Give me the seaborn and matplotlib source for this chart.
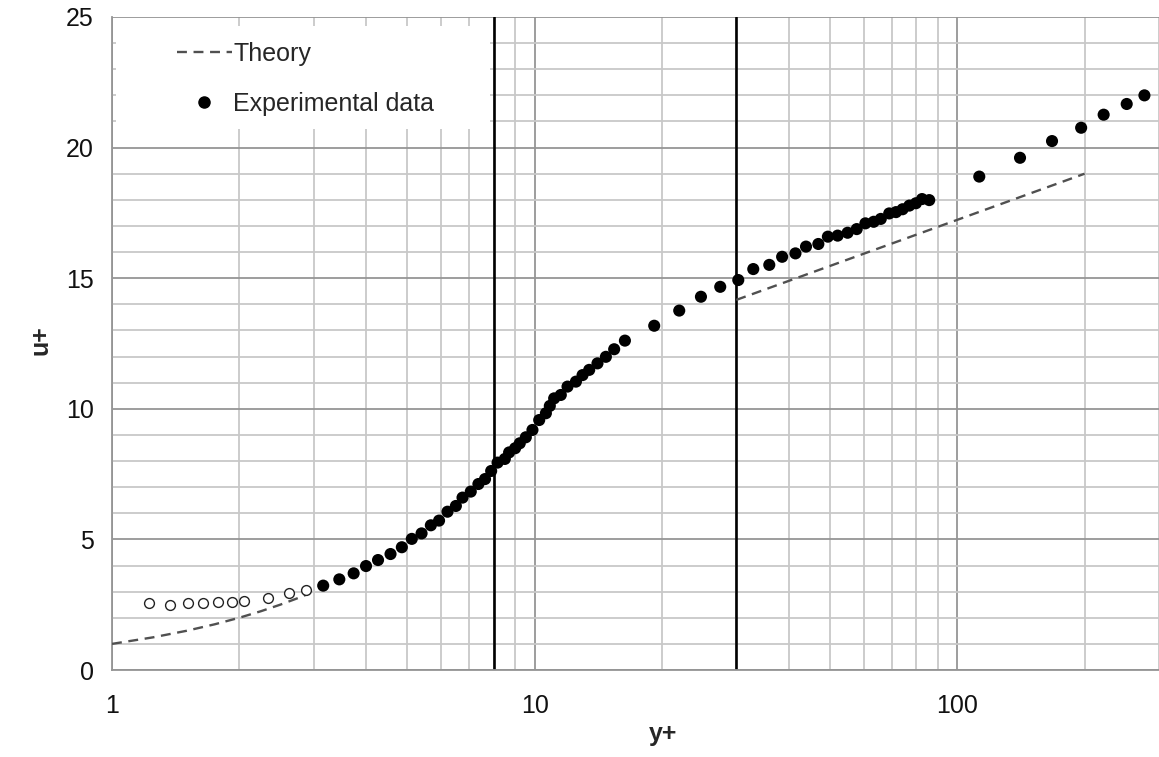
import matplotlib
matplotlib.use("Agg")
import matplotlib.pyplot as plt
import matplotlib.ticker as mticker
from matplotlib.lines import Line2D
import numpy as np
import pandas as pd
import seaborn as sns

# ---- data ----
open_y = [1.22, 1.37, 1.51, 1.64, 1.78, 1.92, 2.05, 2.34, 2.62, 2.88]
open_u = [2.55, 2.49, 2.55, 2.55, 2.59, 2.59, 2.65, 2.77, 2.94, 3.06]

filled_y = [3.16, 3.45, 3.73, 3.99, 4.26, 4.56, 4.85, 5.12, 5.40, 5.68,
            5.94, 6.22, 6.51, 6.75, 7.06, 7.36, 7.63, 7.89, 8.17, 8.50,
            8.70, 8.99, 9.22, 9.53, 9.88, 10.25, 10.63, 10.86, 11.12, 11.53,
            11.96, 12.52, 12.98, 13.46, 14.08, 14.74, 15.42, 16.35,
            19.18, 21.98, 24.74, 27.48, 30.32, 32.9, 35.9, 38.5, 41.4, 43.85,
            46.9, 49.4, 52.1, 55.0, 57.8, 60.6, 63.4, 65.9, 69.0, 71.6,
            74.2, 77.0, 79.8, 82.5, 85.8,
            112.7, 140.7, 167.5, 196.3, 221.9, 251.6, 277.1]
filled_u = [3.23, 3.47, 3.70, 3.98, 4.21, 4.44, 4.70, 5.02, 5.23, 5.54,
            5.72, 6.06, 6.28, 6.60, 6.83, 7.12, 7.31, 7.62, 7.94, 8.08,
            8.33, 8.49, 8.68, 8.91, 9.19, 9.57, 9.83, 10.11, 10.40, 10.53,
            10.85, 11.04, 11.29, 11.49, 11.74, 11.99, 12.28, 12.61,
            13.18, 13.76, 14.29, 14.67, 14.93, 15.35, 15.51, 15.82, 15.95, 16.21,
            16.31, 16.59, 16.63, 16.74, 16.88, 17.10, 17.16, 17.27, 17.48, 17.53,
            17.64, 17.78, 17.87, 18.03, 17.99,
            18.89, 19.61, 20.25, 20.76, 21.26, 21.67, 22.0]

theory_visc_y = [1.0, 1.25, 1.5, 1.75, 2.0, 2.25, 2.5, 2.75, 2.9]
theory_visc_u = [1.0, 1.25, 1.5, 1.75, 2.0, 2.25, 2.5, 2.75, 2.9]
theory_log_y = [30, 200]
theory_log_u = [14.17, 19.0]

region_lines = [8, 30]
x_ticks = [1, 10, 100]
y_ticks = [0, 5, 10, 15, 20, 25]

# ---- figure ----
sns.set_style("white")
plt.rcParams['font.family'] = ['Liberation Sans', 'DejaVu Sans']

fig = plt.figure(figsize=(11.59, 7.57), dpi=100)
ax = fig.add_axes([112 / 1159, 1 - 670 / 757, 1 - 112 / 1159, (670 - 17) / 757])

theory = pd.DataFrame({
    "y": theory_visc_y + theory_log_y,
    "u": theory_visc_u + theory_log_u,
    "seg": ["visc"] * len(theory_visc_y) + ["log"] * len(theory_log_y),
})
dash = (0, (4.2, 2.8))
sns.lineplot(data=theory, x="y", y="u", units="seg", estimator=None, sort=False,
             color="#505050", linewidth=1.7, linestyle=dash, ax=ax, zorder=3,
             legend=False)

sns.scatterplot(x=open_y, y=open_u, ax=ax, s=50, marker="o",
                facecolor="white", edgecolor="#222222", linewidth=1.0, zorder=4)
sns.scatterplot(x=filled_y, y=filled_u, ax=ax, s=76, marker="o",
                color="black", edgecolor="none", linewidth=0, zorder=4)

for xv in region_lines:
    ax.axvline(xv, color="black", linewidth=1.9, zorder=2.5)

ax.set_xscale("log")
ax.set_xlim(1, 300)
ax.set_ylim(0, 25)

ax.xaxis.set_major_locator(mticker.FixedLocator(x_ticks))
ax.xaxis.set_major_formatter(mticker.FixedFormatter([str(t) for t in x_ticks]))
ax.xaxis.set_minor_locator(mticker.LogLocator(base=10, subs=np.arange(2, 10)))
ax.xaxis.set_minor_formatter(mticker.NullFormatter())
ax.yaxis.set_major_locator(mticker.FixedLocator(y_ticks))
ax.yaxis.set_minor_locator(mticker.MultipleLocator(1))

ax.grid(which="major", color="#959595", linewidth=1.3, zorder=0)
ax.grid(which="minor", color="#c8c8c8", linewidth=1.3, zorder=0)
ax.set_axisbelow(True)

ax.tick_params(axis="both", which="major", direction="out", length=7, width=1.2,
               color="#959595", labelsize=18, pad=6, labelcolor="#111111")
ax.tick_params(axis="y", which="minor", direction="out", length=6, width=1.2,
               color="#b0b0b0")
ax.tick_params(axis="x", which="minor", length=0)
ax.tick_params(axis="x", which="major", pad=10)

for side in ["top", "right"]:
    ax.spines[side].set_visible(False)
for side in ["left", "bottom"]:
    ax.spines[side].set_color("#959595")
    ax.spines[side].set_linewidth(1.3)

ax.set_xlabel("y+", fontsize=18, fontweight="bold")
ax.set_ylabel("u+", fontsize=18, fontweight="bold")
ax.xaxis.set_label_coords((663 - 112) / 1047, -0.08)
ax.yaxis.set_label_coords(-0.057, (670 - 340) / 653)

# white legend area
bg = plt.Rectangle((0.004, 0.828), 0.357, 0.158, transform=ax.transAxes,
                   facecolor="white", edgecolor="none", zorder=5)
ax.add_patch(bg)
handles = [Line2D([], [], color="#505050", linewidth=1.7, linestyle=dash),
           Line2D([], [], color="black", marker="o", markersize=8, linestyle="none")]
leg = ax.legend(handles, ["Theory", "Experimental data"], loc="upper left",
                bbox_to_anchor=(0.062, 0.962), frameon=False, fontsize=18,
                handlelength=2.2, handletextpad=0.05, labelspacing=1.05,
                borderpad=0, borderaxespad=0)
leg.set_zorder(6)

fig.savefig("out.png", dpi=100)
